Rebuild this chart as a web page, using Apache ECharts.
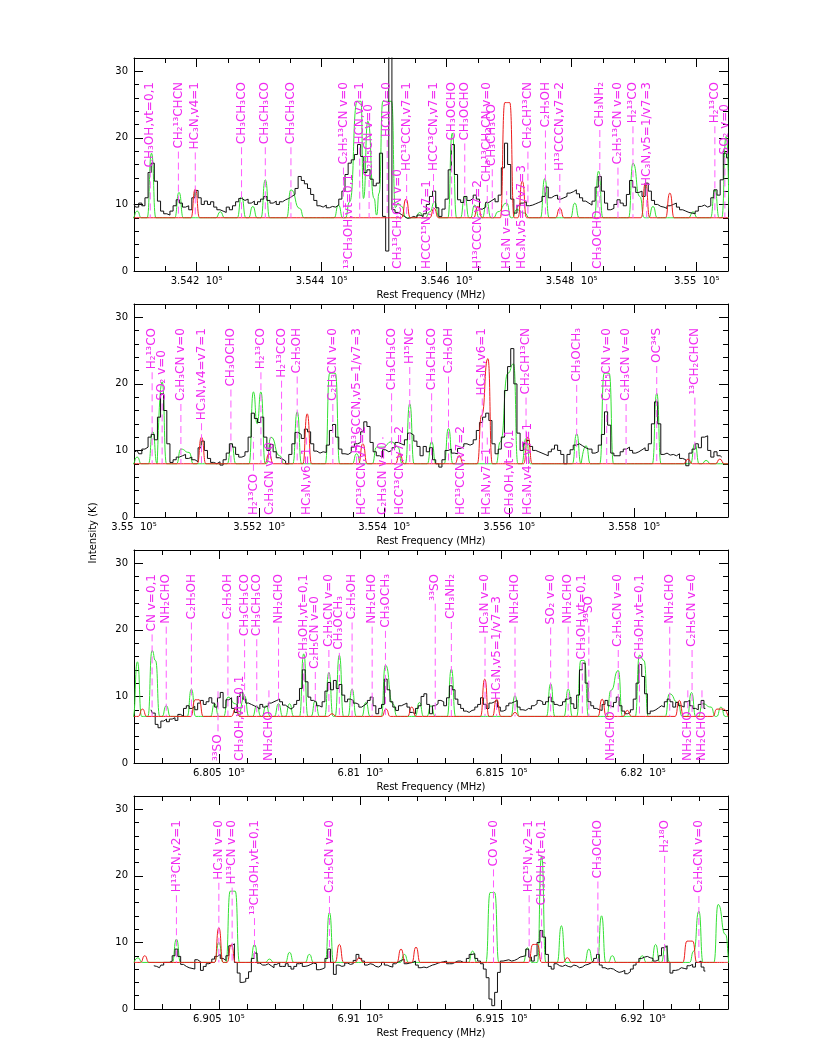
<!DOCTYPE html>
<html>
<head>
<meta charset="utf-8">
<title>Line survey spectra</title>
<script src="https://cdn.jsdelivr.net/npm/echarts@6.0.0/dist/echarts.min.js"></script>
<style>
  html, body { margin: 0; padding: 0; background: #fff; }
  #chart { width: 822px; height: 1064px; }
</style>
</head>
<body>
<div id="chart"></div>
<script>
// ---- panel 1 : 354.10 - 355.05 GHz ----
const p1Range = [354100, 355050];
const p1Major = [354200, 354400, 354600, 354800, 355000];
const p1ObsStart = 354100, p1ObsStep = 5;
const p1Obs = [
  10.0, 9.6, 10.2, 9.8, 11.0, 14.8, 16.2, 13.5, 10.5, 9.0,
  8.6, 8.4, 9.0, 9.8, 10.7, 10.2, 9.6, 9.8, 9.2, 11.0,
  12.1, 11.0, 10.0, 10.5, 10.0, 10.4, 9.6, 9.2, 9.0, 8.8,
  9.6, 9.2, 9.8, 10.4, 10.9, 10.6, 10.8, 10.2, 10.5, 10.0,
  10.4, 10.8, 11.2, 10.6, 10.2, 10.5, 10.0, 10.4, 10.7, 10.9,
  11.2, 11.5, 12.4, 14.2, 13.6, 13.1, 12.4, 11.5, 10.6, 9.8,
  9.6, 9.9, 9.5, 9.7, 9.6, 9.9, 10.8, 12.0, 14.5, 16.2,
  16.7, 17.5, 19.0, 17.2, 14.8, 15.2, 13.8, 12.8, 13.2, 17.7,
  8.2, 3.0, 33, 9.2, 8.8, 8.5, 8.2, 7.9, 8.0, 8.2,
  8.0, 8.4, 8.2, 8.6, 10.0, 11.2, 12.0, 9.5, 8.2, 9.3,
  10.8, 15.2, 19.0, 14.5, 10.7, 10.3, 11.2, 10.6, 10.9, 11.4,
  10.8, 9.3, 9.6, 10.3, 10.6, 10.9, 10.4, 11.4, 15.5, 19.2,
  16.0, 10.8, 8.7, 9.8, 10.2, 10.4, 9.8, 9.9, 10.1, 10.3,
  10.5, 11.2, 12.6, 11.0, 11.3, 11.4, 10.8, 11.0, 11.2, 11.7,
  11.9, 12.2, 11.6, 11.0, 10.5, 10.2, 9.9, 10.5, 12.6, 14.2,
  12.0, 10.2, 9.2, 9.4, 10.0, 10.7, 10.2, 9.8, 11.5, 13.6,
  12.6, 11.8, 12.0, 11.2, 13.2, 12.0, 10.6, 10.0, 9.7, 9.6,
  9.4, 9.8, 10.0, 10.2, 9.6, 9.2, 9.0, 8.8, 8.7, 8.6,
  9.0, 9.7, 9.9, 9.6, 9.8, 11.0, 12.2, 11.4, 13.7, 17.7, 17.0
];
const p1Green = [
  [354105, 9.0], [354128, 17.7], [354172, 11.8], [354238, 8.9], [354272, 11.2], [354290, 9.7],
  [354310, 13.7], [354351, 12.2], [354365, 9.4], [354427, 9.9], [354445, 10.4], [354457, 25.5],
  [354463, 25.5], [354467, 10.9], [354474, 22.5], [354484, 10.9], [354488, 8.4], [354492, 11.7],
  [354498, 25.5], [354512, 25.5], [354518, 9.5], [354522, 10.2], [354528, 9.7], [354557, 8.8],
  [354573, 8.9], [354581, 10.4], [354609, 20.7], [354629, 11.2], [354645, 9.9], [354664, 10.4],
  [354682, 8.9], [354696, 10.2], [354712, 9.2], [354725, 8.7], [354757, 13.9], [354805, 10.2],
  [354843, 15.0], [354898, 16.2], [354909, 11.2], [354930, 9.7], [354994, 8.9], [355029, 12.2],
  [355047, 20.2]
];
const p1Red = [
  [354198, 12.3], [354535, 10.8], [354580, 9.4], [354650, 9.7], [354693, 25.3], [354701, 25.3],
  [354721, 13.5], [354781, 9.4], [354918, 13.2], [354957, 11.7]
];
const p1Labels = [
  [354126, 'CH₃OH,vt=0,1', 1], [354171, 'CH₂¹³CHCN', 1], [354198, 'HC₃N,v4=1', 1],
  [354272, 'CH₃CH₃CO', 1], [354310, 'CH₃CH₃CO', 1], [354351, 'CH₃CH₃CO', 1],
  [354435, 'C₂H₅¹³CN v=0', 1], [354443, '¹³CH₃OH,vt=0,1', 0], [354461, 'HCN,v2=1', 1],
  [354476, 'C₂H₅CN v=0', 1], [354505, 'HCN v=0', 1], [354522, 'CH₃¹³CH₂CN v=0', 0],
  [354536, 'HC¹³CCN,v7=1', 1], [354568, 'HCCC¹⁵N,v7=1', 0], [354579, 'HCC¹³CN,v7=1', 1],
  [354608, 'CH₃OCHO', 1], [354629, 'CH₃OCHO', 1], [354650, 'H¹³CCCN,v7=2', 0],
  [354665, 'CH₃¹³CH₂CN v=0', 1], [354673, 'CH₃CH₃CO', 1], [354696, 'HC₃N v=0', 0],
  [354721, 'HC₃N,v5=1/v7=3', 0], [354730, 'CH₂CH¹³CN', 1], [354758, 'C₂H₅OH', 1],
  [354781, 'H¹³CCCN,v7=2', 1], [354842, 'CH₃OCHO', 0], [354845, 'CH₃NH₂', 1],
  [354874, 'C₂H₅¹³CN v=0', 1], [354898, 'H₂¹³CO', 1], [354920, 'HC₃N,v5=1/v7=3', 1],
  [355029, 'H₂¹³CO', 1], [355045, 'SO₂ v=0', 1]
];

// ---- panel 2 : 355.00 - 355.95 GHz ----
const p2Range = [355000, 355950];
const p2Major = [355000, 355200, 355400, 355600, 355800];
const p2ObsStart = 355000, p2ObsStep = 5;
const p2Obs = [
  9.7, 10.0, 9.5, 10.2, 10.5, 12.0, 12.4, 11.6, 15.0, 18.5,
  16.0, 11.0, 8.2, 8.6, 9.0, 9.2, 9.4, 8.8, 9.0, 8.6,
  8.3, 10.4, 11.4, 10.0, 8.8, 8.2, 8.0, 8.3, 7.8, 8.6,
  9.6, 11.0, 10.5, 9.4, 9.0, 9.2, 9.8, 12.0, 15.6, 14.8,
  14.2, 15.0, 12.0, 10.0, 10.9, 9.8, 8.9, 8.7, 8.4, 8.0,
  9.4, 11.0, 12.7, 12.4, 11.8, 13.2, 12.8, 11.0, 9.9, 9.6,
  9.8, 9.7, 10.8, 13.0, 13.9, 12.0, 10.2, 9.5, 9.4, 9.7,
  10.5, 11.0, 11.2, 12.8, 14.3, 13.6, 11.2, 9.8, 9.2, 9.0,
  10.1, 9.8, 10.0, 10.4, 11.2, 11.0, 10.8, 11.6, 12.6, 12.3,
  11.4, 10.6, 9.2, 10.6, 9.8, 10.4, 8.6, 8.0, 7.5, 8.6,
  10.0, 10.2, 9.6, 9.5, 10.3, 10.6, 11.0, 10.8, 11.0, 11.6,
  13.0, 14.2, 15.0, 15.6, 14.5, 11.0, 9.5, 10.2, 12.0, 19.0,
  22.6, 25.3, 20.0, 12.6, 10.0, 11.0, 11.5, 10.6, 10.0, 9.8,
  9.6, 9.4, 9.2, 9.8, 10.2, 10.8, 10.0, 9.4, 8.0, 9.4,
  10.1, 10.8, 11.0, 10.7, 10.4, 10.2, 10.2, 9.6, 9.8, 10.8,
  12.4, 15.8, 13.8, 9.6, 9.2, 9.2, 9.8, 10.2, 10.5, 10.0,
  9.6, 9.8, 10.1, 10.4, 10.0, 11.0, 14.0, 17.3, 14.0, 9.4,
  9.6, 9.3, 9.4, 9.2, 9.5, 8.8, 8.6, 7.7, 9.6, 10.2,
  11.0, 10.4, 12.0, 12.2, 10.0, 9.0, 9.8, 9.2, 9.0
];
const p2Green = [
  [355005, 9.0], [355030, 12.8], [355045, 20.3], [355075, 10.2], [355088, 9.7], [355156, 11.0],
  [355191, 18.8], [355197, 14.0], [355203, 18.8], [355219, 12.0], [355233, 9.2], [355261, 15.8],
  [355313, 21.6], [355322, 21.6], [355356, 9.5], [355388, 10.5], [355398, 10.5], [355412, 11.3],
  [355422, 10.5], [355441, 17.0], [355476, 11.3], [355503, 13.3], [355586, 11.3], [355598, 21.6],
  [355607, 23.0], [355627, 11.8], [355708, 12.5], [355723, 10.7], [355752, 21.6], [355760, 21.6],
  [355836, 18.6], [355897, 11.0], [355915, 8.5]
];
const p2Red = [
  [355108, 12.0], [355216, 9.5], [355277, 15.5], [355366, 11.0], [355425, 9.5], [355520, 9.2],
  [355556, 15.3], [355566, 23.8], [355630, 12.0], [355886, 8.7], [355937, 8.7]
];
const p2Labels = [
  [355029, 'H₂¹³CO', 1], [355045, 'SO₂ v=0', 1], [355075, 'C₂H₃CN v=0', 1],
  [355108, 'HC₃N,v4=v7=1', 1], [355155, 'CH₃OCHO', 1], [355191, 'H₂¹³CO', 0],
  [355203, 'H₂¹³CO', 1], [355218, 'C₂H₃CN v=0', 0], [355236, 'H₂¹³CCO', 1],
  [355261, 'C₂H₅OH', 1], [355276, 'HC₃N,v6=1', 0], [355318, 'C₂H₃CN v=0', 1],
  [355356, 'H¹³CCCN,v5=1/v7=3', 1], [355364, 'HC¹³CCN,v7=2', 0], [355398, 'C₂H₃CN v=0', 0],
  [355412, 'CH₃CH₃CO', 1], [355425, 'HCC¹³CN,v7=2', 0], [355441, 'H¹⁵NC', 1],
  [355476, 'CH₃CH₃CO', 1], [355503, 'C₂H₅OH', 1], [355522, 'HC¹³CCN,v7=2', 0],
  [355557, 'HC₃N,v6=1', 1], [355565, 'HC₃N,v7=1', 0], [355601, 'CH₃OH,vt=0,1', 0],
  [355627, 'CH₂CH¹³CN', 1], [355630, 'HC₃N,v4=v7=1', 0], [355708, 'CH₃OCH₃', 1],
  [355756, 'C₂H₅CN v=0', 1], [355787, 'C₂H₃CN v=0', 1], [355836, 'OC³⁴S', 1],
  [355897, '¹³CH₂CHCN', 1]
];

// ---- panel 3 : 680.2 - 682.3 GHz ----
const p3Range = [680200, 682300];
const p3Major = [680500, 681000, 681500, 682000];
const p3ObsStart = 680260, p3ObsStep = 10;
const p3Obs = [
  8.0, 7.5, 5.8, 5.3, 6.3, 6.6, 6.2, 6.6, 6.8, 6.4,
  7.3, 7.0, 8.2, 8.6, 8.2, 8.5, 8.0, 9.0, 9.4, 8.8,
  9.2, 9.8, 9.0, 8.4, 9.8, 10.6, 8.3, 9.5, 9.8, 8.2,
  7.6, 10.0, 10.6, 9.6, 9.0, 8.8, 8.6, 8.4, 8.1, 8.8,
  8.4, 8.6, 9.0, 9.2, 9.4, 9.6, 9.2, 8.7, 8.4, 8.1,
  8.4, 8.8, 9.4, 11.2, 14.0, 12.2, 9.9, 9.4, 9.1, 8.6,
  8.4, 9.2, 10.8, 12.1, 11.0, 12.4, 11.2, 11.8, 10.2, 9.2,
  9.6, 9.4, 9.0, 8.8, 8.4, 8.7, 9.0, 9.4, 9.9, 8.6,
  7.4, 8.2, 8.8, 12.6, 11.0, 9.2, 8.4, 7.9, 8.6, 8.8,
  9.0, 8.4, 7.6, 7.4, 8.2, 8.6, 10.0, 10.4, 8.8, 7.4,
  8.6, 8.9, 9.4, 9.2, 8.6, 9.8, 11.6, 11.0, 9.6, 8.8,
  8.2, 7.8, 7.6, 7.9, 8.0, 8.4, 8.8, 9.8, 8.8, 8.2,
  9.0, 9.2, 9.4, 8.4, 7.8, 8.0, 8.6, 9.0, 9.2, 9.4,
  8.4, 8.0, 7.9, 8.2, 8.1, 8.6, 8.9, 9.4, 9.2, 8.8,
  9.2, 9.9, 9.2, 8.8, 8.6, 8.7, 9.2, 9.6, 9.9, 8.9,
  8.2, 10.2, 14.0, 15.0, 12.0, 9.2, 8.6, 8.2, 8.0, 7.9,
  8.8, 9.4, 8.6, 8.4, 9.1, 9.9, 8.6, 7.8, 7.4, 7.6,
  8.0, 9.6, 12.0, 14.8, 13.0, 10.4, 7.4, 7.8, 8.0, 8.3,
  8.6, 8.4, 9.2, 9.6, 9.2, 8.4, 9.1, 8.6, 8.4, 9.2,
  9.4, 8.6, 8.2, 8.0, 8.8, 9.4, 8.2
];
const p3Green = [
  [680212, 15.2], [680264, 16.9], [680276, 15.4], [680314, 8.6], [680403, 11.1], [680485, 8.9],
  [680532, 9.9], [680559, 8.9], [680591, 10.1], [680634, 8.6], [680667, 8.6], [680711, 8.9],
  [680750, 8.9], [680800, 16.4], [680841, 9.4], [680889, 13.6], [680926, 16.2], [680971, 11.1],
  [681020, 9.1], [681089, 14.7], [681115, 8.9], [681209, 9.1], [681250, 8.6], [681322, 14.1],
  [681547, 10.1], [681673, 11.9], [681735, 11.1], [681780, 15.4], [681792, 15.4], [681886, 10.9],
  [681912, 13.9], [681987, 16.2], [682003, 15.4], [682093, 10.4], [682123, 9.1], [682171, 10.6],
  [682210, 8.9], [682240, 8.4], [682275, 8.4]
];
const p3Red = [
  [680230, 8.1], [680416, 9.5], [680430, 9.5], [680559, 8.1], [680900, 7.4], [681091, 8.1],
  [681182, 8.4], [681440, 12.6], [681482, 9.6], [681547, 7.6], [681855, 9.6], [681944, 7.9],
  [682128, 9.4], [682261, 8.1], [682285, 8.1]
];
const p3Labels = [
  [680264, 'CN v=0,1', 1], [680314, 'NH₂CHO', 1], [680403, 'C₂H₅OH', 1], [680497, '³³SO', 0],
  [680532, 'C₂H₅OH', 1], [680576, 'CH₃OH,vt=0,1', 0], [680591, 'CH₃CH₃CO', 1],
  [680634, 'CH₃CH₃CO', 1], [680677, 'NH₂CHO', 0], [680711, 'NH₂CHO', 1],
  [680800, 'CH₃OH,vt=0,1', 1], [680841, 'C₂H₅CN v=0', 1], [680889, 'C₂H₅CN v=0', 1],
  [680926, 'CH₃OCH₃', 1], [680971, 'C₂H₅OH', 1], [681042, 'NH₂CHO', 1], [681089, 'CH₃OCH₃', 1],
  [681265, '³³SO', 1], [681322, 'CH₃NH₂', 1], [681441, 'HC₃N v=0', 1],
  [681482, 'HC₃N,v5=1/v7=3', 1], [681547, 'NH₂CHO', 1], [681673, 'SO₂ v=0', 1],
  [681735, 'NH₂CHO', 1], [681785, 'CH₃OH,vt=0,1', 1], [681808, '³³SO', 1], [681886, 'NH₂CHO', 0],
  [681912, 'C₂H₅CN v=0', 1], [681987, 'CH₃OH,vt=0,1', 1], [682094, 'NH₂CHO', 1],
  [682158, 'NH₂CHO', 0], [682173, 'C₂H₅CN v=0', 1], [682208, 'NH₂CHO', 0]
];

// ---- panel 4 : 690.2 - 692.3 GHz ----
const p4Range = [690200, 692300];
const p4Major = [690500, 691000, 691500, 692000];
const p4ObsStart = 690270, p4ObsStep = 10;
const p4Obs = [
  6.5, 6.4, 6.2, 6.6, 7.0, 7.0, 7.2, 8.0, 9.0, 7.9,
  6.7, 6.4, 6.2, 6.1, 6.0, 7.4, 7.1, 5.8, 6.4, 6.8,
  7.0, 7.5, 7.9, 8.2, 7.6, 7.3, 8.0, 9.5, 9.8, 7.0,
  5.4, 4.0, 4.1, 4.6, 5.6, 7.6, 8.4, 6.9, 6.6, 6.6,
  6.8, 6.5, 6.2, 6.7, 7.0, 6.4, 6.4, 6.8, 6.4, 6.0,
  6.4, 6.8, 6.9, 6.4, 6.5, 6.7, 6.9, 6.8, 5.9, 6.0,
  6.2, 7.6, 9.0, 7.0, 5.2, 6.6, 6.4, 6.5, 6.9, 6.7,
  6.8, 7.3, 8.2, 7.6, 7.2, 6.6, 6.8, 6.7, 6.4, 6.3,
  6.6, 7.0, 6.6, 6.4, 6.3, 6.8, 7.1, 7.3, 7.5, 6.8,
  6.9, 7.0, 7.2, 6.6, 6.2, 6.3, 6.2, 6.4, 6.6, 6.7,
  6.9, 7.0, 7.1, 7.2, 6.8, 6.8, 7.0, 7.2, 7.2, 7.0,
  7.0, 7.6, 8.2, 8.3, 7.6, 7.2, 6.8, 6.0, 4.7, 1.5,
  0.5, 2.5, 5.5, 7.2, 7.3, 7.4, 7.2, 7.3, 7.5, 7.8,
  7.9, 8.0, 9.0, 7.8, 7.2, 8.0, 10.0, 11.8, 10.8, 8.2,
  6.4, 6.0, 6.8, 6.5, 6.4, 6.6, 6.4, 6.3, 6.6, 6.5,
  6.2, 6.3, 6.6, 6.7, 6.9, 7.2, 7.6, 8.2, 6.6, 6.2,
  6.0, 6.1, 6.0, 5.7, 5.5, 5.6, 5.8, 5.3, 5.6, 6.0,
  6.6, 7.0, 7.6, 7.8, 7.9, 7.7, 7.6, 7.2, 7.4, 8.0,
  9.2, 9.5, 7.0, 5.4, 5.8, 5.9, 6.2, 6.1, 6.0, 6.5,
  6.7, 6.3, 7.0, 7.2, 6.3, 5.7
];
const p4Green = [
  [690214, 7.7], [690350, 10.5], [690500, 10.0], [690540, 17.7], [690558, 17.7], [690626, 9.7],
  [690679, 7.5], [690750, 8.5], [690820, 8.2], [690891, 14.5], [691156, 8.2], [691397, 8.7],
  [691459, 17.5], [691475, 17.5], [691591, 9.2], [691641, 23.0], [691711, 12.5], [691808, 9.0],
  [691853, 14.0], [691891, 8.0], [691997, 8.0], [692044, 9.7], [692079, 9.5], [692179, 8.7],
  [692197, 14.7], [692265, 15.7], [692291, 11.2]
];
const p4Red = [
  [690238, 8.0], [690500, 12.2], [690544, 9.7], [690926, 9.7], [690996, 7.7], [691144, 9.0],
  [691197, 9.3], [691610, 9.7], [691626, 9.7], [691732, 7.7], [692155, 10.2], [692175, 10.2]
];
const p4Labels = [
  [690350, 'H¹³CN,v2=1', 1], [690500, 'HC₃N v=0', 1], [690547, 'H¹³CN v=0', 1],
  [690626, '¹³CH₃OH,vt=0,1', 1], [690891, 'C₂H₅CN v=0', 1], [691471, 'CO v=0', 1],
  [691597, 'HC¹⁵N,v2=1', 1], [691641, 'CH₃OH,vt=0,1', 1], [691840, 'CH₃OCHO', 1],
  [692076, 'H₂¹⁸O', 1], [692197, 'C₂H₅CN v=0', 1]
];

const yMajor = [0, 10, 20, 30];
const yMax = 32;

const panels = [
  { range: p1Range, major: p1Major, minorStep: 50, base: 8, foot: 7,
    obsStart: p1ObsStart, obsStep: p1ObsStep, obs: p1Obs, green: p1Green, red: p1Red, labels: p1Labels },
  { range: p2Range, major: p2Major, minorStep: 50, base: 8, foot: 7,
    obsStart: p2ObsStart, obsStep: p2ObsStep, obs: p2Obs, green: p2Green, red: p2Red, labels: p2Labels },
  { range: p3Range, major: p3Major, minorStep: 100, base: 7, foot: 15,
    obsStart: p3ObsStart, obsStep: p3ObsStep, obs: p3Obs, green: p3Green, red: p3Red, labels: p3Labels },
  { range: p4Range, major: p4Major, minorStep: 100, base: 7, foot: 15,
    obsStart: p4ObsStart, obsStep: p4ObsStep, obs: p4Obs, green: p4Green, red: p4Red, labels: p4Labels }
];

const GRID_LEFT = 134, GRID_W = 594, GRID_H = 213;
const GRID_TOPS = [58, 304, 550, 796];
const FONT = '"DejaVu Sans", sans-serif';
const LABEL_FONT = '12px ' + FONT;
const MAGENTA = '#f028f0', MAGENTA_LINE = '#ff5cff';
const GREEN = '#33e033', RED = '#ee1c1c';

const measureCtx = document.createElement('canvas').getContext('2d');
measureCtx.font = LABEL_FONT;
function textWidth(s) { return measureCtx.measureText(s).width; }

// model curve: read vertices plus baseline feet around isolated ones
function modelLine(points, p) {
  const pts = points.slice().sort((a, b) => a[0] - b[0]);
  const out = [[p.range[0], p.base]];
  pts.forEach((pt, i) => {
    const prev = pts[i - 1], next = pts[i + 1];
    if (!prev || pt[0] - prev[0] > 2 * p.foot) out.push([pt[0] - p.foot, p.base]);
    out.push(pt);
    if (!next || next[0] - pt[0] > 2 * p.foot) out.push([pt[0] + p.foot, p.base]);
  });
  out.push([p.range[1], p.base]);
  return out;
}

function staggerFlags(p) {
  const pxPerMHz = GRID_W / (p.range[1] - p.range[0]);
  const flags = p.labels.map(() => false);
  const ups = p.labels.map((l, i) => i).filter(i => p.labels[i][2] === 1)
    .sort((a, b) => p.labels[a][0] - p.labels[b][0]);
  for (let k = 1; k < ups.length; k++) {
    const a = ups[k - 1], b = ups[k];
    if ((p.labels[b][0] - p.labels[a][0]) * pxPerMHz < 12 && !flags[a]) flags[b] = true;
  }
  return flags;
}

const grids = [], xAxes = [], yAxes = [], series = [];
const axisColor = '#000';

panels.forEach((p, gi) => {
  grids.push({ left: GRID_LEFT, top: GRID_TOPS[gi], width: GRID_W, height: GRID_H });

  const minor = [];
  for (let v = p.range[0] + p.minorStep; v < p.range[1]; v += p.minorStep) minor.push(v);
  const yMinor = [];
  for (let v = 2; v < yMax; v += 2) yMinor.push(v);

  const xBase = { gridIndex: gi, type: 'value', min: p.range[0], max: p.range[1], splitLine: { show: false } };
  xAxes.push(Object.assign({}, xBase, {
    position: 'bottom',
    axisLine: { show: true, onZero: false, lineStyle: { color: axisColor, width: 1 } },
    axisTick: { show: true, inside: true, length: 5, customValues: minor, lineStyle: { color: axisColor } },
    axisLabel: {
      show: true, customValues: p.major, margin: 5, color: '#000', fontFamily: FONT, fontSize: 10,
      formatter: v => Number((v / 1e5).toFixed(4)) + '  10⁵'
    },
    name: 'Rest Frequency (MHz)', nameLocation: 'middle', nameGap: 19,
    nameTextStyle: { color: '#000', fontFamily: FONT, fontSize: 10 }
  }));
  xAxes.push(Object.assign({}, xBase, {
    position: 'bottom', axisLine: { show: false, onZero: false },
    axisTick: { show: true, inside: true, length: 9, customValues: p.major, lineStyle: { color: axisColor } },
    axisLabel: { show: false }
  }));
  xAxes.push(Object.assign({}, xBase, {
    position: 'top',
    axisLine: { show: true, onZero: false, lineStyle: { color: axisColor, width: 1 } },
    axisTick: { show: true, inside: true, length: 5, customValues: minor, lineStyle: { color: axisColor } },
    axisLabel: { show: false }
  }));
  xAxes.push(Object.assign({}, xBase, {
    position: 'top', axisLine: { show: false, onZero: false },
    axisTick: { show: true, inside: true, length: 9, customValues: p.major, lineStyle: { color: axisColor } },
    axisLabel: { show: false }
  }));

  const yBase = { gridIndex: gi, type: 'value', min: 0, max: yMax, splitLine: { show: false } };
  yAxes.push(Object.assign({}, yBase, {
    position: 'left',
    axisLine: { show: true, onZero: false, lineStyle: { color: axisColor, width: 1 } },
    axisTick: { show: true, inside: true, length: 5, customValues: yMinor, lineStyle: { color: axisColor } },
    axisLabel: { show: true, customValues: yMajor, margin: 6, color: '#000', fontFamily: FONT, fontSize: 10 }
  }));
  yAxes.push(Object.assign({}, yBase, {
    position: 'left', axisLine: { show: false, onZero: false },
    axisTick: { show: true, inside: true, length: 9, customValues: yMajor, lineStyle: { color: axisColor } },
    axisLabel: { show: false }
  }));
  yAxes.push(Object.assign({}, yBase, {
    position: 'right',
    axisLine: { show: true, onZero: false, lineStyle: { color: axisColor, width: 1 } },
    axisTick: { show: true, inside: true, length: 5, customValues: yMinor, lineStyle: { color: axisColor } },
    axisLabel: { show: false }
  }));
  yAxes.push(Object.assign({}, yBase, {
    position: 'right', axisLine: { show: false, onZero: false },
    axisTick: { show: true, inside: true, length: 9, customValues: yMajor, lineStyle: { color: axisColor } },
    axisLabel: { show: false }
  }));

  const ax = { xAxisIndex: gi * 4, yAxisIndex: gi * 4 };

  series.push(Object.assign({
    type: 'line', data: modelLine(p.green, p), smooth: 0.6, smoothMonotone: 'x',
    showSymbol: false, silent: true, z: 2, lineStyle: { color: GREEN, width: 1 }
  }, ax));
  series.push(Object.assign({
    type: 'line', step: 'middle', showSymbol: false, silent: true, z: 3,
    data: p.obs.map((v, i) => [p.obsStart + i * p.obsStep, v]),
    lineStyle: { color: '#111', width: 1 }
  }, ax));
  series.push(Object.assign({
    type: 'line', data: modelLine(p.red, p), smooth: 0.6, smoothMonotone: 'x',
    showSymbol: false, silent: true, z: 4, lineStyle: { color: RED, width: 1 }
  }, ax));

  const stag = staggerFlags(p);
  series.push(Object.assign({
    type: 'custom', silent: true, z: 5, clip: false,
    data: p.labels.map((l, i) => [l[0], i]),
    encode: { x: 0 },
    renderItem: (params, api) => {
      const i = api.value(1);
      const lab = p.labels[i];
      const x = api.coord([lab[0], 0])[0];
      const yTop = api.coord([lab[0], yMax])[1];
      const yBot = api.coord([lab[0], 0])[1];
      const w = textWidth(lab[1]);
      const children = [];
      const dash = { stroke: MAGENTA_LINE, lineWidth: 1, lineDash: [7, 4] };
      if (lab[2] === 1) {
        const yEnd = yTop + 24 + (stag[i] ? 22 : 0);
        children.push({ type: 'text', x: x, y: yEnd, rotation: Math.PI / 2,
          style: { text: lab[1], font: LABEL_FONT, fill: MAGENTA, align: 'right', verticalAlign: 'middle' } });
        const y1 = yEnd + w + 3, y2 = api.coord([lab[0], p.base])[1];
        if (y2 > y1) children.push({ type: 'line', shape: { x1: x, y1: y1, x2: x, y2: y2 }, style: dash });
      } else {
        const yStart = yBot - 2;
        children.push({ type: 'text', x: x, y: yStart, rotation: Math.PI / 2,
          style: { text: lab[1], font: LABEL_FONT, fill: MAGENTA, align: 'left', verticalAlign: 'middle' } });
        const y1 = yStart - w - 3, y2 = api.coord([lab[0], p.base + 4])[1];
        if (y1 > y2) children.push({ type: 'line', shape: { x1: x, y1: y1, x2: x, y2: y2 }, style: dash });
      }
      return { type: 'group', children: children };
    }
  }, ax));
});

const chart = echarts.init(document.getElementById('chart'), null, { renderer: 'canvas' });
chart.setOption({
  animation: false,
  backgroundColor: '#fff',
  grid: grids,
  xAxis: xAxes,
  yAxis: yAxes,
  series: series,
  graphic: [{
    type: 'text', x: 93, y: 533, rotation: Math.PI / 2,
    style: { text: 'Intensity (K)', font: '10px ' + FONT, fill: '#000', align: 'center', verticalAlign: 'middle' }
  }]
});
</script>
</body>
</html>
